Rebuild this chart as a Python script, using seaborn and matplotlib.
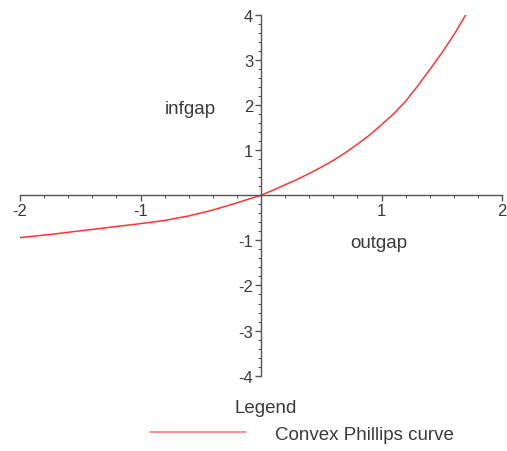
import numpy as np
import pandas as pd
import matplotlib
matplotlib.use("Agg")
import matplotlib.pyplot as plt
import seaborn as sns
from matplotlib.ticker import MultipleLocator

# -----------------------------
# DATA
# -----------------------------
outgap = [-2.0, -1.75, -1.5, -1.25, -1.0, -0.8, -0.6, -0.4, -0.2, 0.0,
          0.1, 0.2, 0.3, 0.4, 0.5, 0.6, 0.7, 0.8, 0.9, 1.0,
          1.1, 1.2, 1.3, 1.4, 1.5, 1.6, 1.7]
infgap = [-0.94, -0.87, -0.79, -0.71, -0.63, -0.56, -0.46, -0.33, -0.17, 0.0,
          0.11, 0.23, 0.35, 0.48, 0.62, 0.77, 0.94, 1.13, 1.33, 1.56,
          1.80, 2.08, 2.42, 2.78, 3.15, 3.55, 4.0]
series_name = "Convex Phillips curve"
x_ticks = [-2, -1, 1, 2]
y_ticks = [-4, -3, -2, -1, 1, 2, 3, 4]

df = pd.DataFrame({"outgap": outgap, "infgap": infgap})

# -----------------------------
# STYLE
# -----------------------------
sns.set_style("white")
plt.rcParams["font.family"] = ["Liberation Sans", "DejaVu Sans"]
plt.rcParams["axes.unicode_minus"] = False

FS = 13.5
TICK_FS = 12
TXT = "#3a3a3a"

fig = plt.figure(figsize=(5.07, 4.52), dpi=100)
ax = fig.add_axes([20 / 507, 1 - 376.7 / 452, 482 / 507, (376.7 - 15.7) / 452])

sns.lineplot(data=df, x="outgap", y="infgap", ax=ax, color="#ff3535",
             linewidth=1.1, label=series_name, sort=False)

ax.set_xlim(-2, 2)
ax.set_ylim(-4, 4)

# axes crossing at the origin, Maple style
for side in ["top", "right"]:
    ax.spines[side].set_visible(False)
for side in ["left", "bottom"]:
    ax.spines[side].set_position("zero")
    ax.spines[side].set_color("#555555")
    ax.spines[side].set_linewidth(1.0)

ax.set_xticks(x_ticks)
ax.set_yticks(y_ticks)
ax.set_xticklabels([str(t) for t in x_ticks])
ax.set_yticklabels([str(t) for t in y_ticks])
ax.xaxis.set_minor_locator(MultipleLocator(0.2))
ax.yaxis.set_minor_locator(MultipleLocator(0.2))
ax.tick_params(axis="both", which="both", bottom=True, left=True)
ax.tick_params(axis="both", which="major", direction="out", length=4,
               width=1, color="#555555", labelsize=TICK_FS, labelcolor=TXT, pad=1.5)
ax.tick_params(axis="both", which="minor", direction="out", length=2,
               width=0.8, color="#555555")
ax.set_xlabel("")
ax.set_ylabel("")

ax.text(-0.59, 1.93, "infgap", ha="center", va="center", fontsize=FS, color=TXT)
ax.text(0.98, -1.04, "outgap", ha="center", va="center", fontsize=FS, color=TXT)

# -----------------------------
# LEGEND
# -----------------------------
ax.legend_.remove()
fig.text(266 / 507, 1 - 409 / 452, "Legend", ha="center", va="center",
         fontsize=FS, color=TXT)
leg = fig.legend(handles=ax.get_lines()[:1], labels=[series_name], loc="center",
                 bbox_to_anchor=(302 / 507, 1 - 435 / 452), frameon=False,
                 handlelength=5.12, handletextpad=1.55, fontsize=FS, labelcolor=TXT)
leg.get_lines()[0].set_color("#ff7070")

fig.savefig("out.png", dpi=100, facecolor="white")
